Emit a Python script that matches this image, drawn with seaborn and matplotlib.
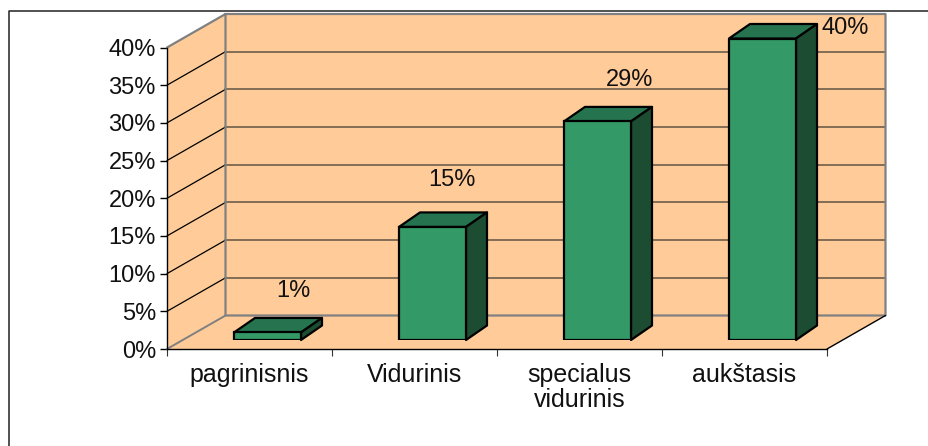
import matplotlib
matplotlib.use("Agg")
import matplotlib.pyplot as plt
from matplotlib.lines import Line2D
from matplotlib.patches import Polygon
from matplotlib.ticker import FuncFormatter
import seaborn as sns

# Data
categories = ["pagrinisnis", "Vidurinis", "specialus\nvidurinis", "aukštasis"]
values = [1, 15, 29, 40]
y_ticks = [0, 5, 10, 15, 20, 25, 30, 35, 40]

# Colours
wall_color = "#FFCC99"
wall_edge = "#808080"
grid_color = "#7A6650"
bar_front = "#339966"
bar_top = "#267350"
bar_side = "#1C4D33"

# Pixel layout of the front plane of the fake 3D box
W, H = 929, 446
left, right = 167, 827
top, bottom = 47.5, 349
depth_px = (58.5, 33.5)
bar_shift_px = (18, 9)
bar_depth_px = (21, 14.5)

# label offsets from bar centre/top, in pixels
label_offsets = [(26, 41), (19.5, 47), (32, 41), (83, 10)]

sns.set_style("white")
plt.rcParams["font.family"] = ["Liberation Sans", "DejaVu Sans"]
font_size = 17
cat_font_size = 18


def rect(x0, x1, y_top, y_bottom):
    return [x0 / W, 1 - y_bottom / H, (x1 - x0) / W, (y_bottom - y_top) / H]


fig = plt.figure(figsize=(W / 100, H / 100), dpi=100)

# outer frame, only top and left are visible
fig.add_artist(Line2D([9 / W, 9 / W, 1], [0, 1 - 10.5 / H, 1 - 10.5 / H], color="#222222", lw=1.1))

ax = fig.add_axes(rect(left, right, top, bottom), zorder=1)
ax.patch.set_alpha(0)
ax.set_xlim(-0.5, 3.5)
ax.set_ylim(0, 40)

px_x = 4 / (right - left)
px_y = 40 / (bottom - top)
dx = depth_px[0] * px_x
dy = depth_px[1] * px_y

# back wall, left wall and floor
ax.add_patch(Polygon([(-0.5 + dx, dy), (3.5 + dx, dy), (3.5 + dx, 40 + dy), (-0.5 + dx, 40 + dy)],
                     fc=wall_color, ec="none", clip_on=False, zorder=1))
ax.add_patch(Polygon([(-0.5, 0), (-0.5 + dx, dy), (-0.5 + dx, 40 + dy), (-0.5, 40)],
                     fc=wall_color, ec="none", clip_on=False, zorder=1))
ax.add_patch(Polygon([(-0.5, 0), (3.5, 0), (3.5 + dx, dy), (-0.5 + dx, dy)],
                     fc=wall_color, ec="none", clip_on=False, zorder=1))

# gridlines on the back wall and the left wall
for t in y_ticks[1:-1]:
    ax.plot([-0.5 + dx, 3.5 + dx], [t + dy, t + dy], color=grid_color, lw=1.3, clip_on=False, zorder=2)
    ax.plot([-0.5, -0.5 + dx], [t, t + dy], color="black", lw=0.9, clip_on=False, zorder=2)

# wall borders
ax.plot([-0.5, -0.5 + dx, 3.5 + dx, 3.5 + dx, -0.5 + dx, -0.5 + dx],
        [40, 40 + dy, 40 + dy, dy, dy, 40 + dy],
        color=wall_edge, lw=1.6, clip_on=False, zorder=3)
ax.plot([-0.5, -0.5 + dx], [0, dy], color=wall_edge, lw=1.4, clip_on=False, zorder=3)
ax.plot([3.5, 3.5 + dx], [0, dy], color="black", lw=1, clip_on=False, zorder=3)

sns.despine(ax=ax, top=True, right=True)
ax.spines["left"].set_linewidth(1)
ax.spines["left"].set_color("black")
ax.spines["bottom"].set_linewidth(1)
ax.spines["bottom"].set_color("black")
ax.spines["left"].set_zorder(4)
ax.spines["bottom"].set_zorder(4)

ax.set_yticks(y_ticks)
ax.yaxis.set_major_formatter(FuncFormatter(lambda v, pos: f"{v:.0f}%"))
ax.set_xticks(range(len(categories)))
ax.set_xticklabels(categories, linespacing=1.08)
ax.set_xticks([-0.5, 0.5, 1.5, 2.5, 3.5], minor=True)
ax.tick_params(axis="x", which="major", length=0, pad=10, labelsize=cat_font_size, labelcolor="#111111")
ax.tick_params(axis="x", which="minor", length=5, width=0.8, color="#333333", bottom=True)
ax.tick_params(axis="y", length=5, width=1, color="black", pad=3, labelsize=font_size,
               labelcolor="#111111", left=True)

# the bars sit a bit further back on the floor, so they get their own axes
bar_ax = fig.add_axes(rect(left + bar_shift_px[0], right + bar_shift_px[0],
                           top - bar_shift_px[1], bottom - bar_shift_px[1]), zorder=2)
bar_ax.patch.set_alpha(0)
sns.barplot(x=categories, y=values, color=bar_front, saturation=1, width=0.406,
            edgecolor="black", linewidth=1.6, ax=bar_ax, zorder=5)
bar_ax.set_xlim(-0.5, 3.5)
bar_ax.set_ylim(0, 40)
bar_ax.axis("off")

bdx = bar_depth_px[0] * px_x
bdy = bar_depth_px[1] * px_y
for patch, val, (off_x, off_y) in zip(bar_ax.patches, values, label_offsets):
    x0 = patch.get_x()
    x1 = x0 + patch.get_width()
    y1 = patch.get_height()
    bar_ax.add_patch(Polygon([(x0, y1), (x1, y1), (x1 + bdx, y1 + bdy), (x0 + bdx, y1 + bdy)],
                             fc=bar_top, ec="black", lw=1.6, clip_on=False, joinstyle="round", zorder=4))
    bar_ax.add_patch(Polygon([(x1, 0), (x1 + bdx, bdy), (x1 + bdx, y1 + bdy), (x1, y1)],
                             fc=bar_side, ec="black", lw=1.6, clip_on=False, joinstyle="round", zorder=4))
    bar_ax.text((x0 + x1) / 2 + off_x * px_x, y1 + off_y * px_y, f"{val}%", ha="center", va="center",
                fontsize=font_size, color="#111111", clip_on=False, zorder=6)

fig.savefig("out.png", dpi=100)
